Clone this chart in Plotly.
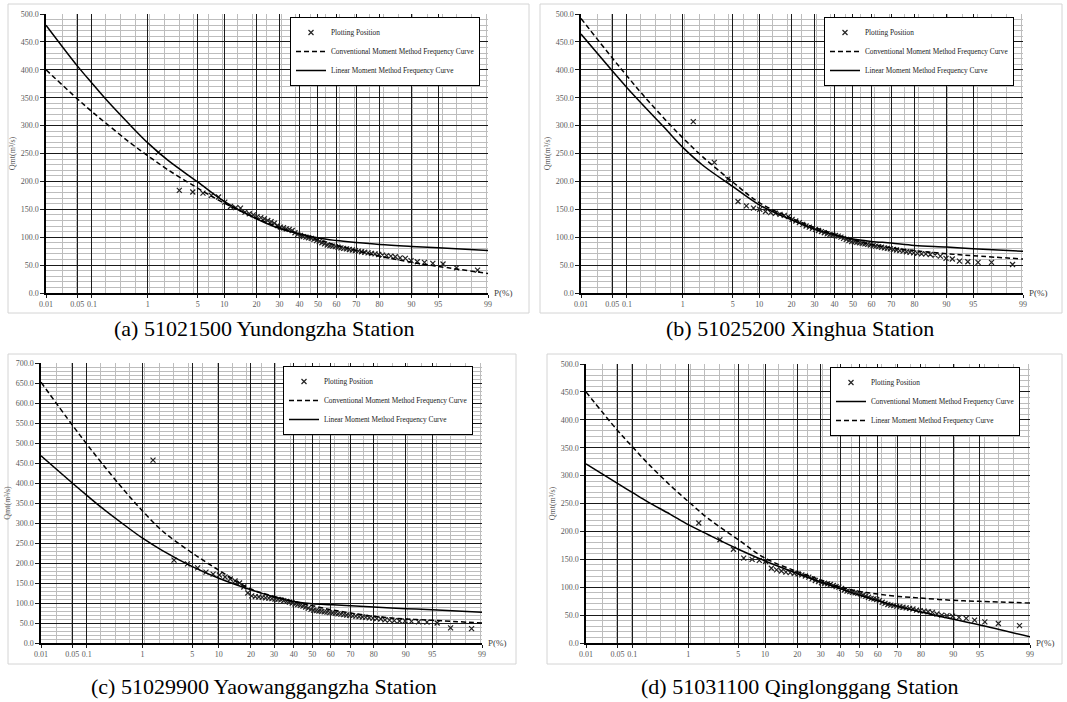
from statistics import NormalDist
import plotly.graph_objects as go

# ---------------- data ----------------
# exceedance probability (%) of the plotted frequency curves
P_CURVE = [0.01, 0.05, 0.1, 0.2, 0.5, 1, 2, 5, 10, 20, 30, 40, 50, 60, 70, 80, 90, 95, 99]

# empirical plotting positions (%) of the 68 observations (shared by all stations)
P_OBS = [1.45, 2.90, 4.35, 5.80, 7.25, 8.70, 10.14, 11.59, 13.04, 14.49, 15.94, 17.39,
         18.84, 20.29, 21.74, 23.19, 24.64, 26.09, 27.54, 28.99, 30.43, 31.88, 33.33,
         34.78, 36.23, 37.68, 39.13, 40.58, 42.03, 43.48, 44.93, 46.38, 47.83, 49.28,
         50.72, 52.17, 53.62, 55.07, 56.52, 57.97, 59.42, 60.87, 62.32, 63.77, 65.22,
         66.67, 68.12, 69.57, 71.01, 72.46, 73.91, 75.36, 76.81, 78.26, 79.71, 81.16,
         82.61, 84.06, 85.51, 86.96, 88.41, 89.86, 91.30, 92.75, 94.20, 95.65, 97.10, 98.55]

# (a) 51021500 Yundongzha
A_OBS = [252, 184, 181, 179, 175, 172, 163, 155, 153, 152, 145, 142, 140, 137, 135, 133,
         130, 128, 125, 121, 118, 117, 115, 114, 112, 108, 105, 103, 101, 100, 99, 98, 96,
         94, 92, 90, 88, 86, 85, 84, 83, 82, 81, 80, 79, 78, 77, 76, 75, 74, 73, 72, 71,
         70, 69, 68, 67, 66, 65, 63, 62, 58, 56, 55, 53, 52, 45, 41]
A_CONV = [400, 348, 325, 302, 270, 246, 221, 188, 161, 134, 117.5, 105.6, 95.5, 85.5, 76,
          66, 55, 47.7, 35]
A_LIN = [480, 407, 376, 344, 302, 269, 238, 199, 164, 133, 115.5, 106, 98.5, 94, 90.5, 87,
         83.5, 81, 76]

# (b) 51025200 Xinghua
B_OBS = [307, 234, 204, 164, 156, 152, 150, 146, 144, 143, 141, 139, 137, 132, 129, 126,
         123, 120, 118, 116, 114, 112, 110, 108, 106, 105, 104, 103, 102, 100, 98, 96, 94,
         92, 92, 91, 90, 89, 88, 87, 86, 85, 84, 83, 82, 81, 80, 79, 78, 77, 76, 75, 74,
         73, 72, 71, 70, 70, 69, 68, 66, 62, 61, 57, 56, 55, 55, 51]
B_CONV = [492, 421, 389, 356, 312, 278, 244, 199, 162, 134, 117.5, 105.6, 95.5, 87, 81,
          76, 70.4, 66.8, 60.9]
B_LIN = [464, 398, 368, 338, 296, 261, 229, 191, 158, 131, 114.5, 104.4, 96.7, 92.5, 89.5,
         85.3, 82.3, 79.4, 74.6]

# (c) 51029900 Yaowanggangzha
C_OBS = [457, 207, 198, 188, 177, 172, 170, 165, 160, 155, 150, 140, 125, 118, 116, 115,
         114, 113, 112, 111, 110, 109, 108, 106, 104, 102, 100, 98, 96, 94, 92, 90, 87, 84,
         82, 81, 80, 79, 78, 77, 76, 75, 74, 73, 72, 71, 70, 69, 68, 67, 66, 65, 64, 63,
         62, 61, 60, 58, 57, 56, 55, 55, 54, 53, 52, 50, 38, 36]
C_CONV = [652, 545, 497, 448, 381, 330, 280, 225, 182, 135, 116.7, 104, 93.3, 83.3, 75,
          66.7, 60, 56.7, 50]
C_LIN = [468, 400, 369, 337, 295, 262, 231, 191, 162, 133, 115, 104, 98.3, 95.8, 93.3,
         90, 85.8, 83.3, 76.7]

# (d) 51031100 Qinglonggang  (legend: conventional = solid, linear = dashed)
D_OBS = [215, 185, 168, 152, 150, 148, 146, 134, 131, 129, 127, 126, 125, 124, 122, 120,
         118, 115, 112, 110, 108, 107, 106, 105, 103, 101, 100, 98, 95, 93, 92, 91, 90, 89,
         88, 86, 84, 82, 80, 79, 78, 76, 73, 71, 69, 68, 67, 66, 65, 64, 63, 62, 61, 59,
         58, 57, 56, 55, 52, 50, 49, 48, 46, 44, 41, 38, 35, 31]
D_CONV = [321, 286, 270, 253, 231, 212, 194, 168, 147, 124.6, 109.4, 97, 86, 75.8, 66,
          55.6, 42.4, 32.2, 11]
D_LIN = [450, 381, 352, 322, 283, 253.6, 223, 185, 152, 128, 113, 100, 92.5, 87.7, 83.5,
         80.5, 76.4, 74.6, 71.6]

TICK_P = [0.01, 0.05, 0.1, 1, 5, 10, 20, 30, 40, 50, 60, 70, 80, 90, 95, 99]
TICK_TEXT = ["0.01", "0.05", "0.1", "1", "5", "10", "20", "30", "40", "50", "60", "70",
             "80", "90", "95", "99"]

CAPTIONS = ["(a) 51021500 Yundongzha Station", "(b) 51025200 Xinghua Station",
            "(c) 51029900 Yaowanggangzha Station", "(d) 51031100 Qinglonggang Station"]

LEG_OBS = "Plotting Position"
LEG_CONV = "Conventional Moment Method Frequency Curve"
LEG_LIN = "Linear Moment Method Frequency Curve"

# ---------------- probability scale ----------------
ND = NormalDist()


def zscale(p_list):
    return [ND.inv_cdf(p / 100.0) for p in p_list]


W, H = 1067, 702
SERIF = "Liberation Serif, Times New Roman, serif"

panels = [
    dict(px=(46, 488, 14, 293), ymax=500, obs=A_OBS, conv=A_CONV, lin=A_LIN,
         conv_dash="dash", lin_dash="solid", leg=(290, 17), box=(8, 529, 4, 313),
         cap=(264, 328)),
    dict(px=(581, 1023, 14, 293), ymax=500, obs=B_OBS, conv=B_CONV, lin=B_LIN,
         conv_dash="dash", lin_dash="solid", leg=(824, 17), box=(540, 1062, 4, 313),
         cap=(800, 328)),
    dict(px=(41, 482, 363, 643), ymax=700, obs=C_OBS, conv=C_CONV, lin=C_LIN,
         conv_dash="dash", lin_dash="solid", leg=(283, 366), box=(8, 516, 354, 664),
         cap=(264, 686)),
    dict(px=(586, 1030, 364, 643), ymax=500, obs=D_OBS, conv=D_CONV, lin=D_LIN,
         conv_dash="solid", lin_dash="dash", leg=(830, 367), box=(547, 1062, 354, 664),
         cap=(800, 686)),
]

fig = go.Figure()
zc = zscale(P_CURVE)
zo = zscale(P_OBS)
zt = zscale(TICK_P)
zmin, zmax = zscale([0.01, 99])
minor_vals = []
v = -3.5
while v < zmax:
    minor_vals.append(round(v, 3))
    v += 0.2

DASH = "5px,3px"
shapes = []
annotations = []
for i, pn in enumerate(panels):
    k = "" if i == 0 else str(i + 1)
    xa, ya = "x" + k, "y" + k
    leg = "legend" + k
    x0, x1, yt, yb = pn["px"]
    fig.add_trace(go.Scatter(
        x=zo, y=pn["obs"], mode="markers", name=LEG_OBS, xaxis=xa, yaxis=ya, legend=leg,
        marker=dict(symbol="x-thin", size=5, line=dict(width=1.2, color="#222222"),
                    color="#222222")))
    fig.add_trace(go.Scatter(
        x=zc, y=pn["conv"], mode="lines", name=LEG_CONV, xaxis=xa, yaxis=ya, legend=leg,
        line=dict(color="black", width=1.5, dash=DASH if pn["conv_dash"] == "dash" else "solid",
                  shape="spline", smoothing=1.0)))
    fig.add_trace(go.Scatter(
        x=zc, y=pn["lin"], mode="lines", name=LEG_LIN, xaxis=xa, yaxis=ya, legend=leg,
        line=dict(color="black", width=1.5, dash=DASH if pn["lin_dash"] == "dash" else "solid",
                  shape="spline", smoothing=1.0)))

    fig.layout["xaxis" + k] = dict(
        domain=[x0 / W, x1 / W], anchor=ya, range=[zmin, zmax], automargin=False,
        tickmode="array", tickvals=zt, ticktext=TICK_TEXT,
        tickfont=dict(family=SERIF, size=8, color="#595959"),
        showgrid=True, gridcolor="#1a1a1a", gridwidth=1.4,
        minor=dict(tickmode="array", tickvals=minor_vals, showgrid=True,
                   gridcolor="#bdbdbd", gridwidth=1),
        showline=True, linecolor="black", linewidth=1.5, mirror=False,
        ticks="outside", ticklen=3, tickcolor="#1a1a1a", zeroline=False, fixedrange=True)
    fig.layout["yaxis" + k] = dict(
        domain=[1 - yb / H, 1 - yt / H], anchor=xa, range=[0, pn["ymax"]], automargin=False,
        tickmode="linear", tick0=0, dtick=50, tickformat=".1f",
        tickfont=dict(family=SERIF, size=8, color="#595959"),
        showgrid=True, gridcolor="#1a1a1a", gridwidth=1.4,
        minor=dict(dtick=10, showgrid=True, gridcolor="#bdbdbd", gridwidth=1),
        showline=True, linecolor="black", linewidth=1.5,
        ticks="outside", ticklen=4, tickcolor="#1a1a1a", zeroline=False,
        title=dict(text="Qmt(m³/s)", font=dict(family=SERIF, size=8, color="#595959"),
                   standoff=4), fixedrange=True)

    lx, ly = pn["leg"]
    fig.layout[leg] = dict(
        x=lx / W, y=1 - ly / H, xref="paper", yref="paper", xanchor="left", yanchor="top",
        bgcolor="white", bordercolor="black", borderwidth=1,
        font=dict(family=SERIF, size=7.3, color="#222222"), tracegroupgap=0,
        itemwidth=30)

    bx0, bx1, by0, by1 = pn["box"]
    shapes.append(dict(type="rect", xref="paper", yref="paper", x0=bx0 / W, x1=bx1 / W,
                       y0=1 - by1 / H, y1=1 - by0 / H, line=dict(color="#d4d4d4", width=1),
                       layer="below"))
    annotations.append(dict(text="P(%)", xref=xa + " domain", yref=ya + " domain", x=1.01,
                            y=0, xanchor="left", yanchor="middle", showarrow=False,
                            font=dict(family=SERIF, size=9, color="#404040")))
    cx, cy = pn["cap"]
    annotations.append(dict(text=CAPTIONS[i], xref="paper", yref="paper", x=cx / W,
                            y=1 - cy / H, xanchor="center", yanchor="middle", showarrow=False,
                            font=dict(family=SERIF, size=22, color="black")))

fig.update_layout(width=W, height=H, margin=dict(l=0, r=0, t=0, b=0, autoexpand=False),
                  paper_bgcolor="white", plot_bgcolor="white", showlegend=True,
                  shapes=shapes, annotations=annotations)
fig.write_html("out.html", config={"displayModeBar": False},
               post_script="document.body.style.margin='0px';"
                           "document.body.style.overflow='hidden';")
